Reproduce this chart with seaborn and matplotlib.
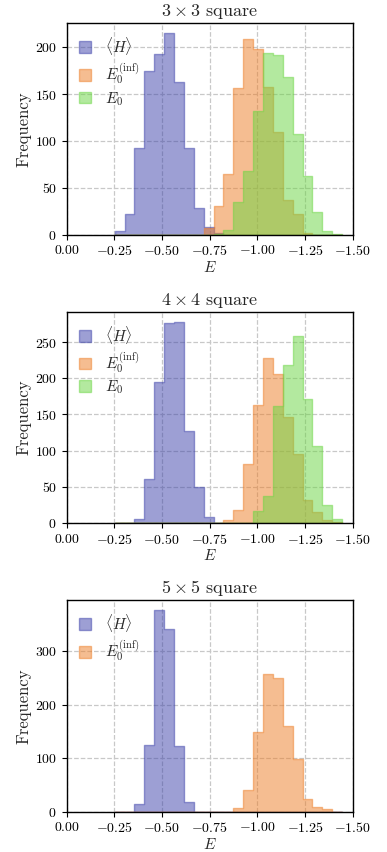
import numpy as np
import pandas as pd
import matplotlib
matplotlib.use("Agg")
import matplotlib.pyplot as plt
from matplotlib.colors import to_rgba
import seaborn as sns

# ---- data (bin 0 is nearest E = 0, moving towards more negative E) ----
bin_first = -0.2525
bin_last = -1.445
n_bins = 23

titles = [r"$3\times3$ square", r"$4\times4$ square", r"$5\times5$ square"]
series_labels = [r"$\langle H\rangle$", r"$E_0^{(\mathrm{inf})}$", r"$E_0$"]

H_3x3 = [4, 22, 93, 175, 193, 215, 163, 92, 28, 8, 2, 0, 0, 0, 0, 0, 0, 0, 0, 0, 0, 0, 0]
Einf_3x3 = [0, 0, 0, 0, 0, 0, 0, 0, 0, 7, 31, 65, 157, 209, 198, 158, 110, 37, 22, 2, 0, 0, 0]
E0_3x3 = [0, 0, 0, 0, 0, 0, 0, 0, 0, 0, 1, 5, 35, 68, 132, 194, 192, 168, 107, 63, 24, 4, 1]

H_4x4 = [0, 0, 5, 61, 195, 277, 278, 127, 50, 8, 0, 0, 0, 0, 0, 0, 0, 0, 0, 0, 0, 0, 0]
Einf_4x4 = [0, 0, 0, 0, 0, 0, 0, 0, 0, 0, 0, 4, 18, 82, 163, 228, 206, 147, 96, 32, 15, 4, 2]
E0_4x4 = [0, 0, 0, 0, 0, 0, 0, 0, 0, 0, 0, 0, 0, 0, 16, 38, 161, 219, 259, 171, 106, 25, 5]

H_5x5 = [0, 0, 15, 124, 377, 342, 123, 18, 0, 0, 0, 0, 0, 0, 0, 0, 0, 0, 0, 0, 0, 0, 0]
Einf_5x5 = [0, 0, 0, 0, 0, 0, 0, 0, 0, 0, 0, 0, 6, 41, 149, 257, 251, 160, 98, 23, 9, 5, 0]

panels = [
    [H_3x3, Einf_3x3, E0_3x3],
    [H_4x4, Einf_4x4, E0_4x4],
    [H_5x5, Einf_5x5],
]
yticks = [[0, 50, 100, 150, 200], [0, 50, 100, 150, 200, 250], [0, 100, 200, 300]]
xticks = [0.0, -0.25, -0.5, -0.75, -1.0, -1.25, -1.5]

colors = ["#3c41aa", "#ed7d25", "#69d541"]

# ---- style ----
sns.set_style("ticks")
plt.rcParams.update({
    "font.family": "serif",
    "font.serif": ["cmr10", "DejaVu Serif"],
    "mathtext.fontset": "cm",
    "axes.formatter.use_mathtext": True,
    "axes.unicode_minus": True,
    "font.size": 10,
    "axes.linewidth": 1.0,
    "xtick.color": "black",
    "ytick.color": "black",
    "axes.edgecolor": "black",
})

edges = np.linspace(bin_first, bin_last, n_bins + 1)
centers = (edges[:-1] + edges[1:]) / 2
bins_sorted = [float(b) for b in np.sort(edges)]

fig, axes = plt.subplots(3, 1, figsize=(3.87, 8.52), dpi=100)
fig.subplots_adjust(left=0.172, right=0.911, top=0.9727, bottom=0.0475, hspace=0.365)

for ax, series, title, yt in zip(axes, panels, titles, yticks):
    for counts, lab, col in zip(series, series_labels, colors):
        df = pd.DataFrame({"E": centers, "w": counts})
        sns.histplot(data=df, x="E", weights="w", bins=bins_sorted, element="step",
                     fill=True, color=col, alpha=0.5, edgecolor=to_rgba(col, 0.5),
                     linewidth=1.0, label=lab, ax=ax)
    ax.set_xlim(0, -1.5)
    ax.set_xticks(xticks)
    ax.set_yticks(yt)
    ax.grid(True, color="#c8c8c8", linestyle="--", linewidth=0.9)
    ax.set_xlabel(r"$E$", fontsize=11, labelpad=1)
    ax.set_ylabel("Frequency", fontsize=12, labelpad=2)
    ax.set_title(title, fontsize=13, pad=5)
    ax.tick_params(labelsize=10, direction="out", length=3.5, width=0.8)
    for s in ax.spines.values():
        s.set_visible(True)
    ax.legend(loc="upper left", frameon=False, fontsize=11, handlelength=0.8,
              handleheight=0.8, labelspacing=0.25, handletextpad=0.9,
              borderaxespad=0.4)

fig.savefig("out.png", dpi=100)
